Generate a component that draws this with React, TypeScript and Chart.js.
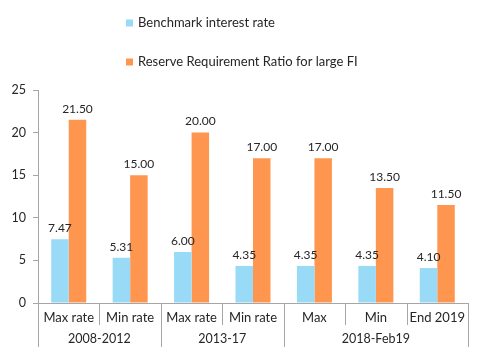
import React, { useEffect, useRef } from 'react';
import { Chart, registerables } from 'chart.js';

Chart.register(...registerables);

const categories = ['Max rate', 'Min rate', 'Max rate', 'Min rate', 'Max', 'Min', 'End 2019'];
const groupLabels = ['2008-2012', '2013-17', '2018-Feb19'];
const groupSpans = [2, 2, 3];
const seriesNames = ['Benchmark interest rate', 'Reserve Requirement Ratio for large FI'];
const benchmarkRate = [7.47, 5.31, 6.0, 4.35, 4.35, 4.35, 4.1];
const reserveRatio = [21.5, 15.0, 20.0, 17.0, 17.0, 13.5, 11.5];
const yMin = 0;
const yMax = 25;
const yStep = 5;

const FONT = 'Lato, "DejaVu Sans", sans-serif';
const BLUE = '#99DAF7';
const ORANGE = '#FF9650';
const AXIS = '#A6A6A6';
const TEXT = '#262626';

const legendPlugin = {
  id: 'customLegend',
  afterDraw(chart: any) {
    const ctx = chart.ctx;
    ctx.save();
    ctx.font = `13px ${FONT}`;
    ctx.textBaseline = 'middle';
    ctx.textAlign = 'left';
    const rows = [23, 62];
    chart.data.datasets.forEach((ds: any, i: number) => {
      const y = rows[i];
      ctx.fillStyle = ds.backgroundColor;
      ctx.fillRect(126, y - 3.5, 7, 7);
      ctx.fillStyle = TEXT;
      ctx.fillText(ds.label, 138, y);
    });
    ctx.restore();
  },
};

const dataLabelPlugin = {
  id: 'dataLabels',
  afterDatasetsDraw(chart: any) {
    const ctx = chart.ctx;
    ctx.save();
    ctx.font = `12px ${FONT}`;
    ctx.fillStyle = TEXT;
    ctx.textAlign = 'center';
    ctx.textBaseline = 'bottom';
    chart.data.datasets.forEach((ds: any, di: number) => {
      const meta = chart.getDatasetMeta(di);
      meta.data.forEach((el: any, i: number) => {
        ctx.fillText(Number(ds.data[i]).toFixed(2), el.x, el.y - 5);
      });
    });
    ctx.restore();
  },
};

const groupAxisPlugin = {
  id: 'groupAxis',
  afterDraw(chart: any) {
    const ctx = chart.ctx;
    const area = chart.chartArea;
    const n = categories.length;
    const w = (area.right - area.left) / n;
    const y0 = area.bottom;
    ctx.save();
    ctx.strokeStyle = AXIS;
    ctx.lineWidth = 1;
    const groupBounds = new Set<number>();
    let acc = 0;
    groupBounds.add(0);
    groupSpans.forEach((s) => {
      acc += s;
      groupBounds.add(acc);
    });
    for (let i = 0; i <= n; i++) {
      const x = Math.round(area.left + i * w) + 0.5;
      const yEnd = groupBounds.has(i) ? y0 + 44 : y0 + 22;
      ctx.beginPath();
      ctx.moveTo(x, y0);
      ctx.lineTo(x, yEnd);
      ctx.stroke();
    }
    ctx.font = `12.5px ${FONT}`;
    ctx.fillStyle = TEXT;
    ctx.textAlign = 'center';
    ctx.textBaseline = 'middle';
    let start = 0;
    groupLabels.forEach((g, gi) => {
      const s = groupSpans[gi];
      const cx = area.left + (start + s / 2) * w;
      ctx.fillText(g, cx, y0 + 36);
      start += s;
    });
    ctx.restore();
  },
};

export default function App() {
  const ref = useRef<HTMLCanvasElement | null>(null);
  useEffect(() => {
    if (!ref.current) return;
    const chart = new Chart(ref.current, {
      type: 'bar',
      data: {
        labels: categories,
        datasets: [
          {
            label: seriesNames[0],
            data: benchmarkRate,
            backgroundColor: BLUE,
            borderWidth: 0,
            categoryPercentage: 0.57,
            barPercentage: 1.0,
          },
          {
            label: seriesNames[1],
            data: reserveRatio,
            backgroundColor: ORANGE,
            borderWidth: 0,
            categoryPercentage: 0.57,
            barPercentage: 1.0,
          },
        ],
      },
      options: {
        animation: false,
        responsive: false,
        maintainAspectRatio: false,
        layout: { padding: { top: 90, right: 24, left: 0, bottom: 0 } },
        plugins: {
          legend: { display: false },
          tooltip: { enabled: false },
          title: { display: false },
        },
        scales: {
          x: {
            grid: { display: false, drawTicks: false },
            border: { display: true, color: AXIS },
            ticks: {
              autoSkip: false,
              maxRotation: 0,
              minRotation: 0,
              color: TEXT,
              padding: 7,
              font: { family: FONT, size: 13 },
            },
            afterFit: (scale: any) => {
              scale.height = 58;
            },
          },
          y: {
            min: yMin,
            max: yMax,
            ticks: {
              stepSize: yStep,
              color: TEXT,
              padding: 7,
              font: { family: FONT, size: 12.5 },
            },
            grid: {
              drawOnChartArea: false,
              drawTicks: true,
              tickLength: 5,
              color: AXIS,
            },
            border: { display: true, color: AXIS },
            afterFit: (scale: any) => {
              scale.width = 38;
            },
          },
        },
      },
      plugins: [legendPlugin, dataLabelPlugin, groupAxisPlugin],
    });
    return () => chart.destroy();
  }, []);
  return (
    <div style={{ position: 'fixed', left: 0, top: 0, width: 492, height: 361, background: '#fff' }}>
      <canvas ref={ref} width={492} height={361} style={{ display: 'block', width: 492, height: 361 }} />
    </div>
  );
}
